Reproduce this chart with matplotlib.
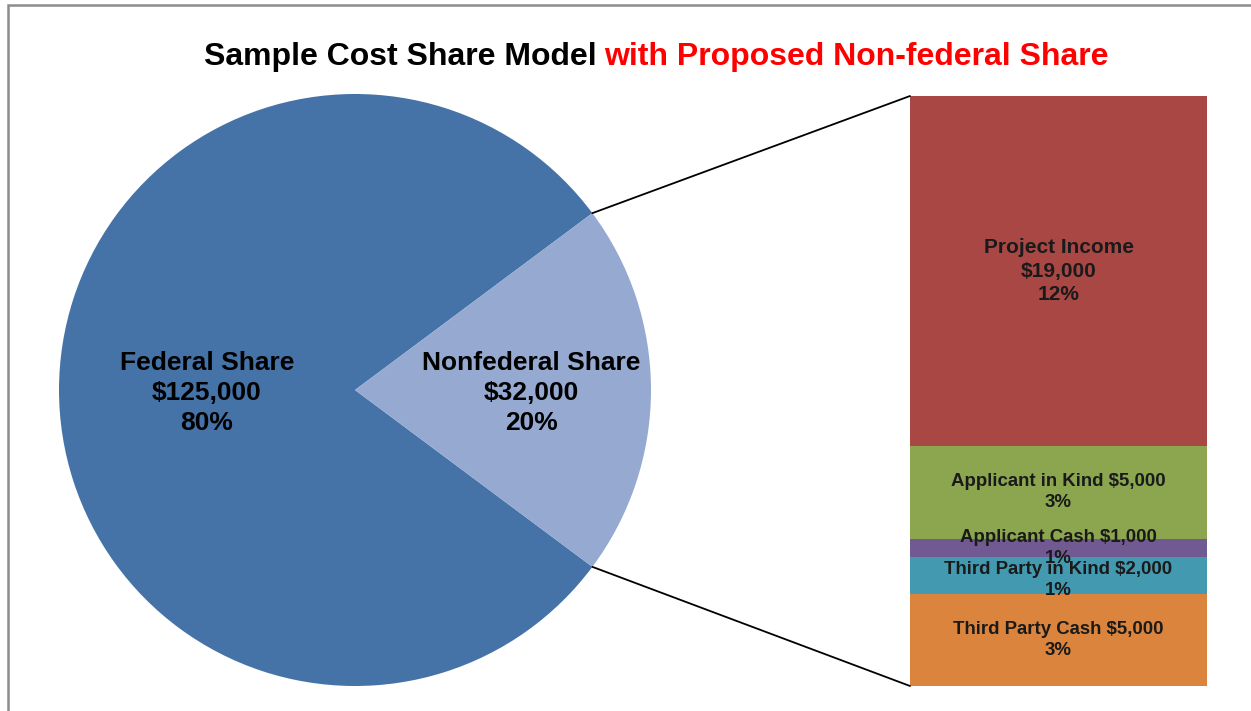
import numpy as np
import matplotlib
matplotlib.use('Agg')
import matplotlib.pyplot as plt
from matplotlib.patches import ConnectionPatch, Rectangle

plt.rcParams['font.family'] = ['Liberation Sans', 'DejaVu Sans']
plt.rcParams['font.weight'] = 'bold'

# Pie data
pie_labels = ['Federal Share', 'Nonfederal Share']
pie_values = [125000, 32000]
pie_colors = ['#4573A7', '#95A9D1']

# Bar (breakdown of nonfederal share), bottom to top
bar_labels = ['Third Party Cash', 'Third Party in Kind', 'Applicant Cash',
              'Applicant in Kind', 'Project Income']
bar_values = [5000, 2000, 1000, 5000, 19000]
bar_colors = ['#DB843D', '#4399B0', '#715A91', '#8BA64F', '#A94745']

total = sum(pie_values)

W, H = 1251, 711
fig = plt.figure(figsize=(W / 100, H / 100), dpi=100)

# outer frame (only left and top are visible in the crop)
fig.patches.append(Rectangle((8 / W, -0.1), 1.5, 1 - 5 / H + 0.1,
                             transform=fig.transFigure, fill=False,
                             edgecolor='#8c8c8c', lw=1.8))

# Title in two colours
fig.text(597 / W, 1 - 57 / H, 'Sample Cost Share Model', ha='right', va='center',
         fontsize=23, fontweight='bold', color='black')
fig.text(604 / W, 1 - 57 / H, 'with Proposed Non-federal Share', ha='left', va='center',
         fontsize=23, fontweight='bold', color='#FF0000')

# Pie: federal share on the left, nonfederal wedge centred on the right
ax1 = fig.add_axes([(355 - 296) / W, 25 / H, 592 / W, 592 / H])
half = pie_values[1] / total * 360 / 2
wedges, _ = ax1.pie(pie_values, colors=pie_colors, startangle=half, counterclock=True,
                    radius=1, wedgeprops=dict(linewidth=0))
ax1.set_xlim(-1, 1)
ax1.set_ylim(-1, 1)
ax1.axis('off')

label_dist = [0.5, 0.595]
for w, lab, val, d in zip(wedges, pie_labels, pie_values, label_dist):
    ang = np.deg2rad((w.theta1 + w.theta2) / 2)
    ax1.text(d * np.cos(ang), d * np.sin(ang) - 0.01,
             f"{lab}\n${val:,.0f}\n{val / total * 100:.0f}%",
             ha='center', va='center', fontsize=19, fontweight='bold',
             linespacing=1.32)

# Stacked bar
ax2 = fig.add_axes([910 / W, 25 / H, 297 / W, 590 / H])
bottom = 0
for lab, val, col in zip(bar_labels, bar_values, bar_colors):
    ax2.bar(0, val, width=1, bottom=bottom, color=col, linewidth=0)
    pct = f"{val / total * 100:.0f}%"
    if lab == 'Project Income':
        ax2.text(0, bottom + val / 2, f"{lab}\n${val:,.0f}\n{pct}", ha='center',
                 va='center', fontsize=15, fontweight='bold', color='#1a1a1a',
                 linespacing=1.3)
    else:
        yc = bottom + val / 2
        if lab == 'Third Party in Kind':
            yc -= 250  # Excel nudges this label down a little
        ax2.text(0, yc, f"{lab} ${val:,.0f}\n{pct}", ha='center',
                 va='center', fontsize=13.4, fontweight='bold', color='#1a1a1a',
                 linespacing=1.3)
    bottom += val
ax2.set_xlim(-0.5, 0.5)
ax2.set_ylim(0, sum(bar_values))
ax2.axis('off')

# connector lines from the nonfederal wedge to the bar
theta1, theta2 = wedges[1].theta1, wedges[1].theta2
for th, yb in [(theta2, sum(bar_values)), (theta1, 0)]:
    x = np.cos(np.deg2rad(th))
    y = np.sin(np.deg2rad(th))
    con = ConnectionPatch(xyA=(-0.5, yb), coordsA=ax2.transData,
                          xyB=(x, y), coordsB=ax1.transData,
                          color='black', linewidth=1.3)
    fig.add_artist(con)

fig.savefig('out.png', dpi=100)
